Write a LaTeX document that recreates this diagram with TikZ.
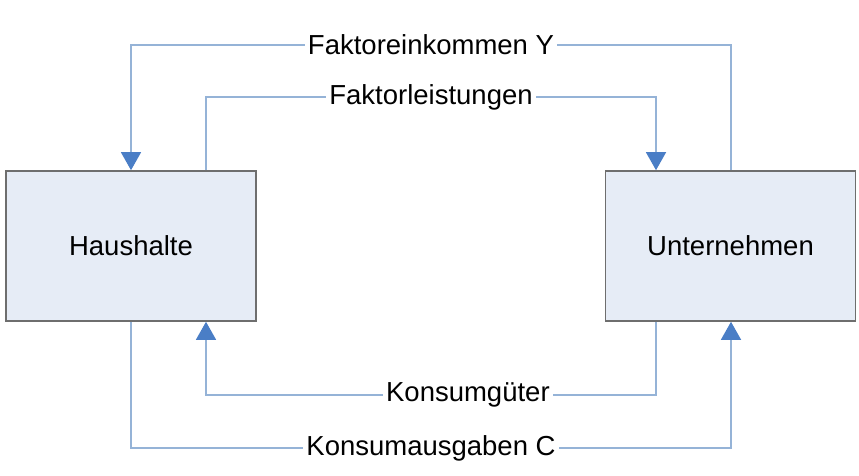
\documentclass[tikz,border=0pt]{standalone}
\usepackage{fontspec}
\setmainfont{Liberation Sans}
\usetikzlibrary{arrows.meta}
\definecolor{boxfill}{HTML}{E6ECF6}
\definecolor{boxline}{HTML}{6E6E6E}
\definecolor{flowline}{HTML}{95B3D7}
\definecolor{tipblue}{HTML}{4A7EC6}
\tikzset{
  agent/.style={draw=boxline, line width=1.6pt, fill=boxfill, minimum width=250pt, minimum height=150pt, inner sep=0pt, font=\fontsize{27.5}{30}\selectfont},
  flow/.style={draw=flowline, line width=1.3pt},
  flowtip/.style={flow, -{Triangle[width=20pt,length=18pt,fill=tipblue,color=tipblue]}},
  lbl/.style={fill=white, inner sep=3pt, font=\fontsize{27.5}{30}\selectfont}
}
\begin{document}
\begin{tikzpicture}[x=1pt,y=-1pt]
\useasboundingbox (0,0) rectangle (859,476);
\node[agent] (hh) at (131,246) {Haushalte};
\node[agent] (un) at (730.5,246) {Unternehmen};
\coordinate (c1) at (731,45);
\coordinate (c2) at (131,45);
\coordinate (c3) at (206,97);
\coordinate (c4) at (656,97);
\coordinate (c5) at (656,395);
\coordinate (c6) at (206,395);
\coordinate (c7) at (131,448);
\coordinate (c8) at (731,448);
% Faktoreinkommen Y
\draw[flowtip] (un.north -| c1) -- (c1) -- node[lbl, pos=0.5] (l1) {Faktoreinkommen Y} (c2) -- (hh.north -| c2);
% Faktorleistungen
\draw[flowtip] (hh.north -| c3) -- (c3) -- node[lbl, pos=0.5] (l2) {Faktorleistungen} (c4) -- (un.north -| c4);
% Konsumgueter
\draw[flowtip] (un.south -| c5) -- (c5) -- node[lbl, pos=0.418] (l3) {Konsumgüter} (c6) -- (hh.south -| c6);
% Konsumausgaben C
\draw[flowtip] (hh.south -| c7) -- (c7) -- node[lbl, pos=0.5] (l4) {Konsumausgaben C} (c8) -- (un.south -| c8);
\end{tikzpicture}
\end{document}
